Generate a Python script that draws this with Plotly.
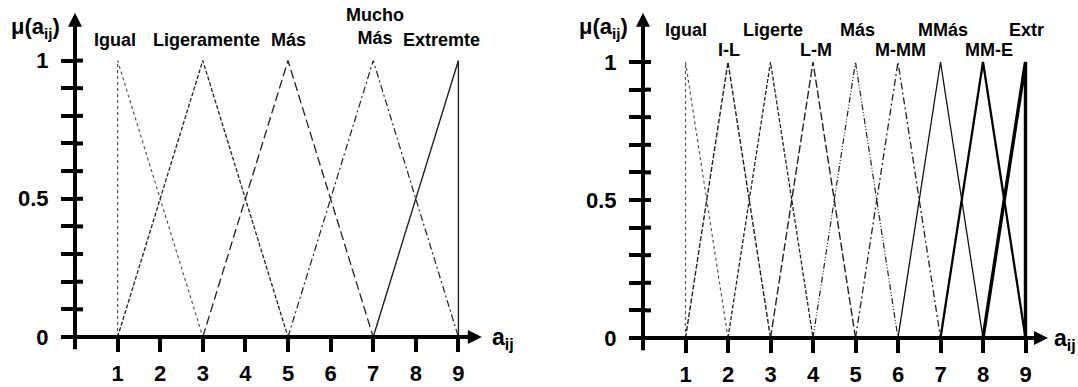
import plotly.graph_objects as go

# ---------------- data ----------------
left_labels = ["Igual", "Ligeramente", "Más", "Mucho<br>Más", "Extremte"]
left_l = [1, 1, 3, 5, 7]
left_m = [1, 3, 5, 7, 9]
left_u = [3, 5, 7, 9, 9]

right_labels = ["Igual", "I-L", "Ligerte", "L-M", "Más", "M-MM", "MMás", "MM-E", "Extr"]
right_l = [1, 1, 2, 3, 4, 5, 6, 7, 8]
right_m = [1, 2, 3, 4, 5, 6, 7, 8, 9]
right_u = [2, 3, 4, 5, 6, 7, 8, 9, 9]

x_ticks = [1, 2, 3, 4, 5, 6, 7, 8, 9]
x_ticktext = ["1", "2", "3", "4", "5", "6", "7", "8", "9"]
y_ticks = [0, 0.1, 0.2, 0.3, 0.4, 0.5, 0.6, 0.7, 0.8, 0.9, 1.0]
y_ticktext = ["0", "", "", "", "", "0.5", "", "", "", "", "1"]

# ---------------- styles ----------------
FONT = "Liberation Sans, Arial, sans-serif"
left_styles = [
    dict(dash="dot", width=1.2, color="#555555"),
    dict(dash="4px,2px", width=1.3, color="#222222"),
    dict(dash="9px,4px", width=1.3, color="#222222"),
    dict(dash="7px,3px,2px,3px", width=1.2, color="#222222"),
    dict(dash="solid", width=1.4, color="#222222"),
]
left_shift = [-3, 4, 0, 2, -17]
left_row = [0, 0, 0, 0, 0]

right_styles = [
    dict(dash="dot", width=1.2, color="#555555"),
    dict(dash="5px,2px", width=1.4, color="#222222"),
    dict(dash="4px,2px", width=1.3, color="#222222"),
    dict(dash="8px,3px", width=1.4, color="#222222"),
    dict(dash="6px,2px,1px,2px,1px,2px", width=1.2, color="#222222"),
    dict(dash="7px,3px,2px,3px", width=1.3, color="#222222"),
    dict(dash="solid", width=1.3, color="#111111"),
    dict(dash="solid", width=2.3, color="#000000"),
    dict(dash="solid", width=3.4, color="#000000"),
]
right_shift = [0, 1, 2, 3, 2, 2, 2.5, 6, 1]
right_row = [0, 1, 0, 1, 0, 1, 0, 1, 0]

W, H = 1078, 387
fig = go.Figure()

panels = [
    dict(xa="x", ya="y", x0=75, sx=42.6, y0=345, sy=283, dom=[0, 0.5],
         labels=left_labels, l=left_l, m=left_m, u=left_u, styles=left_styles,
         shift=left_shift, row=left_row, tip=9.55, atx=9.74, rowy=[41, 21]),
    dict(xa="x2", ya="y2", x0=643, sx=42.5, y0=346, sy=282.5, dom=[0.5, 1],
         labels=right_labels, l=right_l, m=right_m, u=right_u, styles=right_styles,
         shift=right_shift, row=right_row, tip=9.53, atx=9.62, rowy=[31, 51]),
]

annotations = []
shapes = []
for i, p in enumerate(panels):
    xa, ya = p["xa"], p["ya"]
    for k in range(len(p["labels"])):
        st = p["styles"][k]
        fig.add_trace(go.Scatter(
            x=[p["l"][k], p["m"][k], p["u"][k]], y=[0, 1, 0],
            mode="lines", xaxis=xa, yaxis=ya, showlegend=False,
            line=dict(color=st["color"], width=st["width"], dash=st["dash"]),
            hoverinfo="skip"))
        txt = p["labels"][k]
        cy = p["rowy"][p["row"][k]]
        nlines = txt.count("<br>") + 1
        annotations.append(dict(
            x=p["m"][k], y=(p["y0"] - cy) / p["sy"], xref=xa, yref=ya,
            text=txt, showarrow=False, xshift=p["shift"][k],
            yanchor="bottom" if nlines > 1 else "middle",
            yshift=-10 if nlines > 1 else 0,
            font=dict(family=FONT, size=18, color="black", weight="bold")))
    ytip = (p["y0"] - 13) / p["sy"]
    annotations.append(dict(x=0, y=ytip, ax=0, ay=-14 / p["sy"], xref=xa, yref=ya,
                            axref=xa, ayref=ya, showarrow=True, arrowhead=2,
                            arrowsize=0.7, arrowwidth=4, arrowcolor="black", text=""))
    annotations.append(dict(x=p["tip"], y=0, ax=-14 / p["sx"], ay=0, xref=xa, yref=ya,
                            axref=xa, ayref=ya, showarrow=True, arrowhead=2,
                            arrowsize=0.7, arrowwidth=4, arrowcolor="black", text=""))
    annotations.append(dict(x=p["atx"], y=0, xref=xa, yref=ya, xanchor="left",
                            yanchor="middle", yshift=-2, showarrow=False,
                            text="a<sub>ij</sub>",
                            font=dict(family=FONT, size=23, color="black", weight="bold")))
    annotations.append(dict(x=-40 / p["sx"], y=(p["y0"] - 29) / p["sy"], xref=xa, yref=ya,
                            xanchor="center", yanchor="middle", showarrow=False,
                            text="μ(a<sub>ij</sub>)",
                            font=dict(family=FONT, size=22, color="black", weight="bold")))
    for v in y_ticks[1:]:
        shapes.append(dict(type="line", xref=xa, yref=ya, x0=0, x1=8 / p["sx"],
                           y0=v, y1=v, line=dict(color="black", width=4)))

    xr = [(p["dom"][0] * W - p["x0"]) / p["sx"],
          (p["dom"][1] * W - p["x0"]) / p["sx"]]
    yr = [(p["y0"] - H) / p["sy"], p["y0"] / p["sy"]]
    xkey = "xaxis" if i == 0 else "xaxis2"
    ykey = "yaxis" if i == 0 else "yaxis2"
    fig.layout[xkey] = dict(
        domain=p["dom"], range=xr, anchor="free", position=(H - p["y0"]) / H,
        showgrid=False, zeroline=False, showline=False,
        tickvals=x_ticks, ticktext=x_ticktext, ticks="outside", ticklen=14,
        tickwidth=4, tickcolor="black", ticklabelstandoff=3,
        tickfont=dict(family=FONT, size=22, color="black", weight="bold"))
    fig.layout[ykey] = dict(
        domain=[0, 1], range=yr, anchor="free", position=p["x0"] / W,
        showgrid=False, zeroline=False, showline=False,
        tickvals=y_ticks, ticktext=y_ticktext, ticks="outside", ticklen=14,
        tickwidth=4, tickcolor="black", ticklabelstandoff=8,
        tickfont=dict(family=FONT, size=22, color="black", weight="bold"))

fig.update_layout(width=W, height=H, margin=dict(l=0, r=0, t=0, b=0),
                  paper_bgcolor="white", plot_bgcolor="white",
                  annotations=annotations, shapes=shapes)

fig.write_html("out.html")
